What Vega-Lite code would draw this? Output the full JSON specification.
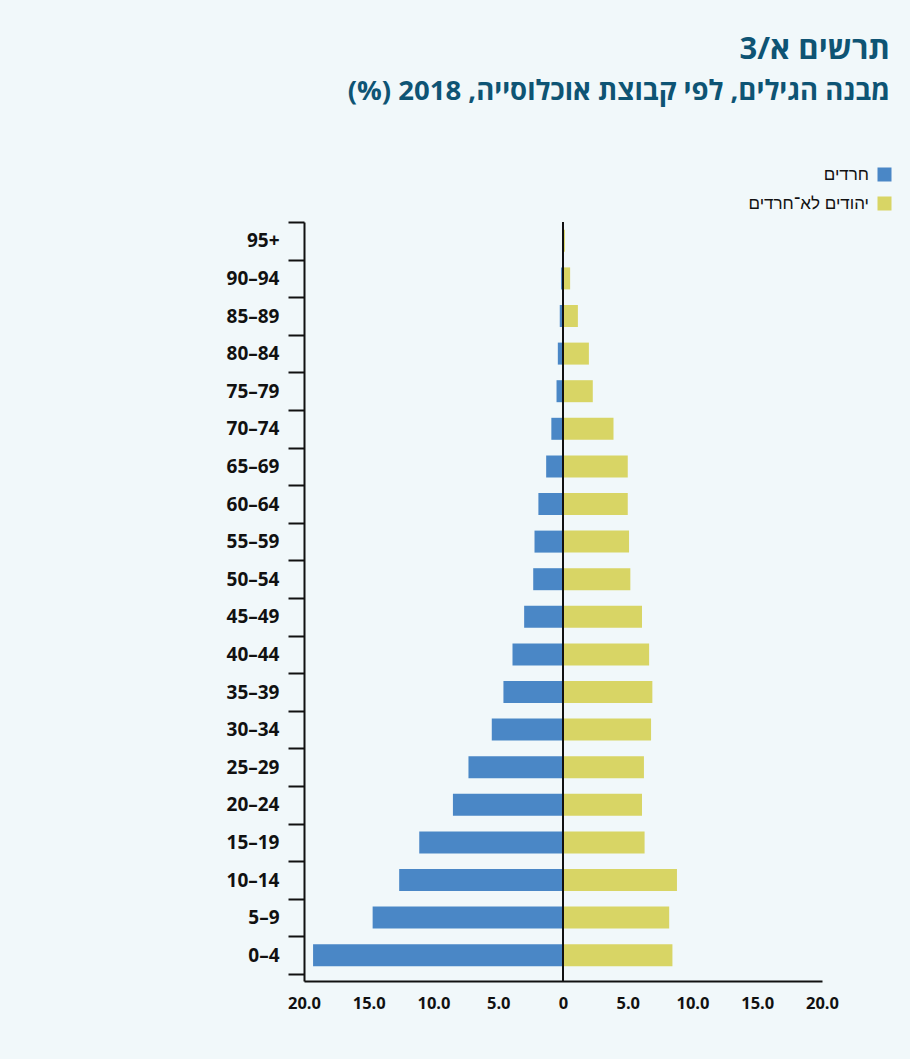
{
  "$schema": "https://vega.github.io/schema/vega-lite/v6.json",
  "autosize": {"type": "none"},
  "padding": {"left": 304, "top": 222, "right": 88, "bottom": 78},
  "width": 518,
  "height": 759,
  "background": "#f1f8fa",
  "config": {
    "view": {"stroke": null},
    "font": "Open Sans"
  },
  "title": {
    "text": "תרשים א/3",
    "subtitle": "מבנה הגילים, לפי קבוצת אוכלוסייה, 2018 (%)\u200f",
    "anchor": "end",
    "frame": "group",
    "dx": 68,
    "offset": 60,
    "font": "Open Sans",
    "fontSize": 31,
    "fontWeight": "bold",
    "color": "#0e5474",
    "subtitleFont": "Open Sans",
    "subtitleFontSize": 27.5,
    "subtitleFontWeight": "bold",
    "subtitleColor": "#0e5474",
    "subtitlePadding": 12
  },
  "data": {
    "values": [
      {"age": "95+", "group": "חרדים", "value": -0.05},
      {"age": "95+", "group": "יהודים לא־חרדים", "value": 0.15},
      {"age": "90–94", "group": "חרדים", "value": -0.15},
      {"age": "90–94", "group": "יהודים לא־חרדים", "value": 0.55},
      {"age": "85–89", "group": "חרדים", "value": -0.25},
      {"age": "85–89", "group": "יהודים לא־חרדים", "value": 1.15},
      {"age": "80–84", "group": "חרדים", "value": -0.4},
      {"age": "80–84", "group": "יהודים לא־חרדים", "value": 2.0},
      {"age": "75–79", "group": "חרדים", "value": -0.5},
      {"age": "75–79", "group": "יהודים לא־חרדים", "value": 2.3},
      {"age": "70–74", "group": "חרדים", "value": -0.9},
      {"age": "70–74", "group": "יהודים לא־חרדים", "value": 3.9},
      {"age": "65–69", "group": "חרדים", "value": -1.3},
      {"age": "65–69", "group": "יהודים לא־חרדים", "value": 5.0},
      {"age": "60–64", "group": "חרדים", "value": -1.9},
      {"age": "60–64", "group": "יהודים לא־חרדים", "value": 5.0},
      {"age": "55–59", "group": "חרדים", "value": -2.2},
      {"age": "55–59", "group": "יהודים לא־חרדים", "value": 5.1},
      {"age": "50–54", "group": "חרדים", "value": -2.3},
      {"age": "50–54", "group": "יהודים לא־חרדים", "value": 5.2},
      {"age": "45–49", "group": "חרדים", "value": -3.0},
      {"age": "45–49", "group": "יהודים לא־חרדים", "value": 6.1},
      {"age": "40–44", "group": "חרדים", "value": -3.9},
      {"age": "40–44", "group": "יהודים לא־חרדים", "value": 6.65},
      {"age": "35–39", "group": "חרדים", "value": -4.6},
      {"age": "35–39", "group": "יהודים לא־חרדים", "value": 6.9},
      {"age": "30–34", "group": "חרדים", "value": -5.5},
      {"age": "30–34", "group": "יהודים לא־חרדים", "value": 6.8},
      {"age": "25–29", "group": "חרדים", "value": -7.3},
      {"age": "25–29", "group": "יהודים לא־חרדים", "value": 6.25},
      {"age": "20–24", "group": "חרדים", "value": -8.5},
      {"age": "20–24", "group": "יהודים לא־חרדים", "value": 6.1},
      {"age": "15–19", "group": "חרדים", "value": -11.1},
      {"age": "15–19", "group": "יהודים לא־חרדים", "value": 6.3},
      {"age": "10–14", "group": "חרדים", "value": -12.65},
      {"age": "10–14", "group": "יהודים לא־חרדים", "value": 8.8},
      {"age": "5–9", "group": "חרדים", "value": -14.7},
      {"age": "5–9", "group": "יהודים לא־חרדים", "value": 8.2},
      {"age": "0–4", "group": "חרדים", "value": -19.3},
      {"age": "0–4", "group": "יהודים לא־חרדים", "value": 8.45}
    ]
  },
  "layer": [
    {
      "mark": {"type": "bar", "height": {"band": 0.585}},
      "encoding": {
        "y": {
          "field": "age",
          "type": "nominal",
          "sort": ["95+", "90–94", "85–89", "80–84", "75–79", "70–74", "65–69", "60–64", "55–59", "50–54", "45–49", "40–44", "35–39", "30–34", "25–29", "20–24", "15–19", "10–14", "5–9", "0–4"],
          "scale": {"paddingInner": 0, "paddingOuter": 0.093, "align": 0},
          "axis": {
            "title": null,
            "tickBand": "extent",
            "tickSize": 16,
            "tickWidth": 2,
            "tickColor": "#111111",
            "domainColor": "#111111",
            "domainWidth": 2,
            "labelFont": "Open Sans",
            "labelFontSize": 19,
            "labelFontWeight": "bold",
            "labelColor": "#111111",
            "labelPadding": 9
          }
        },
        "x": {
          "field": "value",
          "type": "quantitative",
          "stack": null,
          "scale": {"domain": [-20, 20], "nice": false},
          "axis": {
            "title": null,
            "values": [-20, -15, -10, -5, 0, 5, 10, 15, 20],
            "labelExpr": "datum.value == 0 ? '0' : format(abs(datum.value), '.1f')",
            "grid": false,
            "ticks": false,
            "domainColor": "#111111",
            "domainWidth": 2,
            "labelFont": "Open Sans",
            "labelFontSize": 16.5,
            "labelFontWeight": "bold",
            "labelColor": "#111111",
            "labelPadding": 14,
            "labelFlush": false
          }
        },
        "color": {
          "field": "group",
          "type": "nominal",
          "scale": {"domain": ["חרדים", "יהודים לא־חרדים"], "range": ["#4a87c6", "#d8d565"]},
          "legend": {
            "title": null,
            "orient": "none",
            "legendX": 572,
            "legendY": -56,
            "symbolType": "square",
            "symbolSize": 196,
            "symbolStrokeWidth": 0,
            "symbolOpacity": 1,
            "labelAlign": "right",
            "labelOffset": -24,
            "labelFont": "Liberation Sans",
            "labelFontSize": 17,
            "labelColor": "#111111",
            "rowPadding": 11
          }
        }
      }
    },
    {
      "mark": {"type": "rule", "color": "#111111", "strokeWidth": 2},
      "encoding": {"x": {"datum": 0}}
    }
  ]
}
